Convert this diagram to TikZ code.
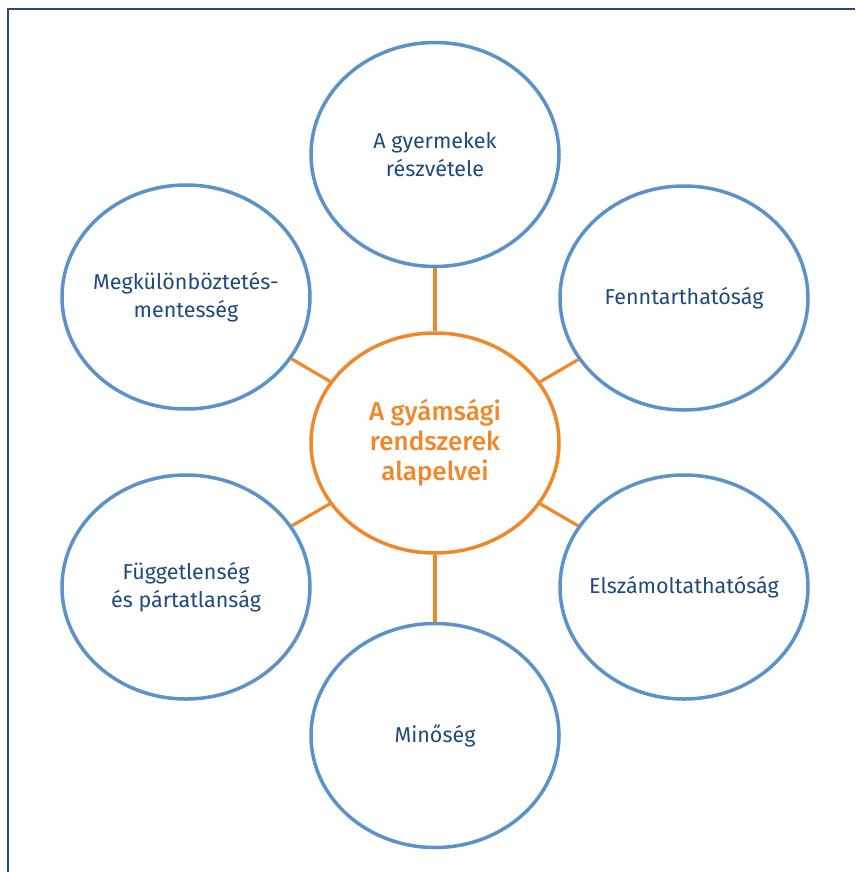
\documentclass[tikz,border=0pt]{standalone}
\usepackage{fontspec}
\setmainfont{Fira Sans}
\newfontfamily\corefont{Fira Sans Medium}
\usetikzlibrary{shapes.geometric, positioning}
\definecolor{ringblue}{RGB}{91,146,201}
\definecolor{spokeorange}{RGB}{240,135,40}
\definecolor{textblue}{RGB}{31,73,125}
\definecolor{framenavy}{RGB}{44,72,120}

\begin{document}
\begin{tikzpicture}[x=1pt, y=1pt,
	principle/.style={ellipse, draw=ringblue, line width=3.5pt, minimum width=248pt, minimum height=224pt, inner xsep=-40pt, inner ysep=0pt, align=center, text=textblue, font=\fontsize{21.5}{28}\selectfont},
	core/.style={ellipse, draw=spokeorange, line width=3.5pt, minimum width=248pt, minimum height=220pt, inner xsep=-40pt, inner ysep=0pt, align=center, text=spokeorange, font=\corefont\fontsize{26}{30}\selectfont},
	spoke/.style={draw=spokeorange, line width=3.2pt}]
			\useasboundingbox (0,0) rectangle (855,-872);
			% open frame, left and top only
			\draw [framenavy, line width=2pt] (8,-872) -- (8,-9) -- (855,-9);
			
			\node (elvek) [core] at (435,-443) {A gyámsági\\rendszerek\\alapelvei};
			\node (reszvetel) [principle, above=63pt of elvek] {A gyermekek\\részvétele};
			\node (minoseg) [principle, below=67pt of elvek] {Minőség};
			\node (megkulon) [principle] at (186,-297) {Megkülönböztetés-\\mentesség};
			\node (fenntart) [principle] at (684,-298) {Fenntarthatóság};
			\node (fuggetlen) [principle] at (186,-587) {Függetlenség\\és pártatlanság};
			\node (elszamol) [principle] at (684,-587) {Elszámoltathatóság};
			
			% Spokes
			\draw [spoke] (elvek) -- (reszvetel);
			\draw [spoke] (elvek) -- (minoseg);
			\draw [spoke] (elvek) -- (megkulon);
			\draw [spoke] (elvek) -- (fenntart);
			\draw [spoke] (elvek) -- (fuggetlen);
			\draw [spoke] (elvek) -- (elszamol);
		\end{tikzpicture}
\end{document}
